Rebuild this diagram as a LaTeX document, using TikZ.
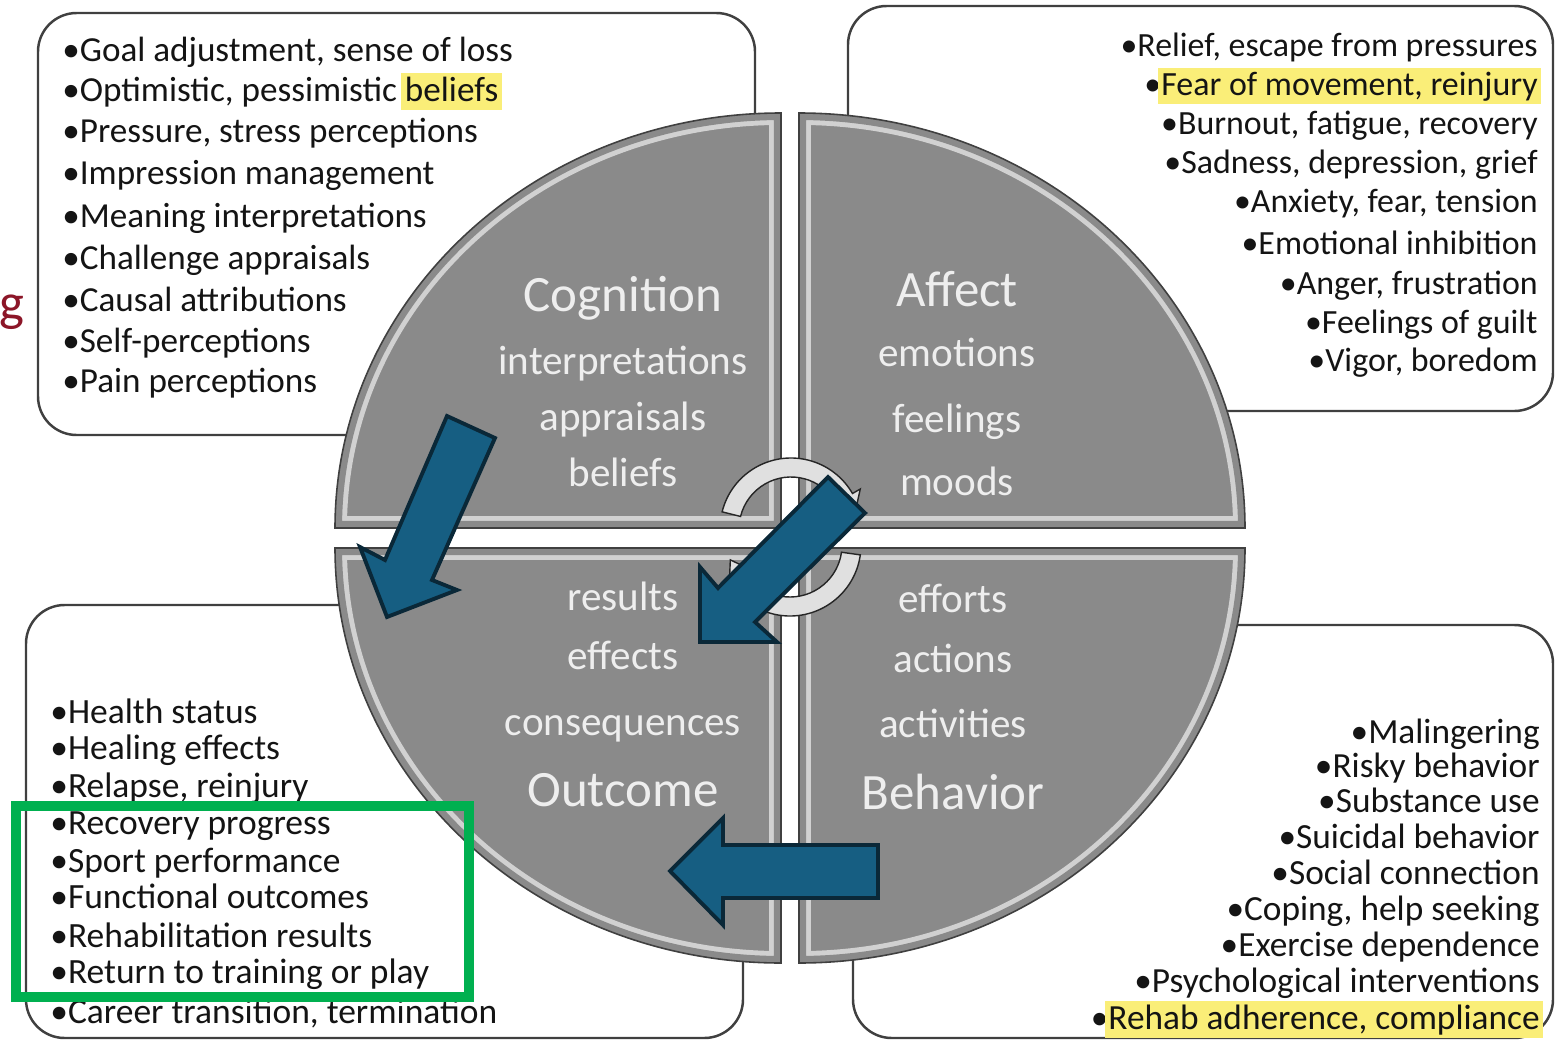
\documentclass[tikz,border=0pt]{standalone}
\usepackage{fontspec}
\setmainfont{Carlito}
\usetikzlibrary{positioning}
\definecolor{quadgray}{RGB}{138,138,138}
\definecolor{quadtext}{RGB}{238,238,238}
\definecolor{arrowblue}{RGB}{22,94,130}
\definecolor{arrowedge}{RGB}{10,40,56}
\definecolor{hlyellow}{RGB}{250,238,120}
\definecolor{framegreen}{RGB}{0,176,80}
\definecolor{slidered}{RGB}{140,22,40}
\newcommand\hlight[1]{\hspace*{-2pt}{\setlength{\fboxsep}{2pt}\colorbox{hlyellow}{\vphantom{Ay}#1}}\hspace*{-2pt}}
\newcommand\quadpath[4]{(#1,#2) -- ++(#3:446 and 415) arc[start angle=#3, end angle=#4, x radius=446, y radius=415] -- cycle}
\tikzset{
listbox/.style={
  draw=black!75,
  line width=1.4pt,
  fill=white,
  rounded corners=22pt
  },
listL/.style={
  anchor=base west,
  inner sep=0pt,
  text=black!92,
  font=\fontsize{20}{24}\selectfont
  },
listR/.style={listL, anchor=base east},
quadtxt/.style={
  anchor=base,
  inner sep=0pt,
  text=quadtext,
  font=\fontsize{23.4}{28}\selectfont
  },
quadhead/.style={quadtxt, font=\fontsize{29}{34}\selectfont},
quadedge/.style={draw=black!75, line width=0.9pt},
cyclearrow/.style={fill=black!12, draw=black!85, line width=0.8pt},
bluearrow/.style={fill=arrowblue, draw=arrowedge, line width=2.2pt, line join=miter},
greenframe/.style={draw=framegreen, line width=6.2pt}
}

\begin{document}
\begin{tikzpicture}[x=0.02cm, y=-0.02cm]
\useasboundingbox (0,0) rectangle (1555,1041);
\clip (0,0) rectangle (1555,1041);

\node[anchor=base east, inner sep=0pt, text=slidered, font=\fontsize{30}{36}\selectfont] (cut-g) at (25,320) {g};

\path[listbox] (38,13) rectangle (755,435);
\path[listbox] (848,6) rectangle (1553,411);
\path[listbox] (26,605) rectangle (743,1038);
\path[listbox] (853,625) rectangle (1553,1038);

\node[listL] (cog-1) at (62,61) {•Goal adjustment, sense of loss};
\node[listL] (cog-2) at (62,101) {•Optimistic, pessimistic \hlight{beliefs}};
\node[listL] (cog-3) at (62,142) {•Pressure, stress perceptions};
\node[listL] (cog-4) at (62,184) {•Impression management};
\node[listL] (cog-5) at (62,227) {•Meaning interpretations};
\node[listL] (cog-6) at (62,269) {•Challenge appraisals};
\node[listL] (cog-7) at (62,311) {•Causal attributions};
\node[listL] (cog-8) at (62,352) {•Self-perceptions};
\node[listL] (cog-9) at (62,392) {•Pain perceptions};

\node[listR, font=\fontsize{19.3}{23}\selectfont] (aff-1) at (1538,56) {•Relief, escape from pressures};
\node[listR, font=\fontsize{19.3}{23}\selectfont] (aff-2) at (1538,95) {•\hlight{Fear of movement, reinjury}};
\node[listR, font=\fontsize{19.3}{23}\selectfont] (aff-3) at (1538,134) {•Burnout, fatigue, recovery};
\node[listR, font=\fontsize{19.3}{23}\selectfont] (aff-4) at (1538,173) {•Sadness, depression, grief};
\node[listR, font=\fontsize{19.3}{23}\selectfont] (aff-5) at (1538,212) {•Anxiety, fear, tension};
\node[listR, font=\fontsize{19.3}{23}\selectfont] (aff-6) at (1538,254) {•Emotional inhibition};
\node[listR, font=\fontsize{19.3}{23}\selectfont] (aff-7) at (1538,294) {•Anger, frustration};
\node[listR, font=\fontsize{19.3}{23}\selectfont] (aff-8) at (1538,333) {•Feelings of guilt};
\node[listR, font=\fontsize{19.3}{23}\selectfont] (aff-9) at (1538,371) {•Vigor, boredom};

\node[listL, font=\fontsize{20.2}{24}\selectfont] (out-1) at (50,723) {•Health status};
\node[listL, font=\fontsize{20.2}{24}\selectfont] (out-2) at (50,759) {•Healing effects};
\node[listL, font=\fontsize{20.2}{24}\selectfont] (out-3) at (50,797) {•Relapse, reinjury};
\node[listL, font=\fontsize{20.2}{24}\selectfont] (out-4) at (50,834) {•Recovery progress};
\node[listL, font=\fontsize{20.2}{24}\selectfont] (out-5) at (50,872) {•Sport performance};
\node[listL, font=\fontsize{20.2}{24}\selectfont] (out-6) at (50,908) {•Functional outcomes};
\node[listL, font=\fontsize{20.2}{24}\selectfont] (out-7) at (50,947) {•Rehabilitation results};
\node[listL, font=\fontsize{20.2}{24}\selectfont] (out-8) at (50,983) {•Return to training or play};
\node[listL, font=\fontsize{20.2}{24}\selectfont] (out-9) at (50,1023) {•Career transition, termination};

\node[listR, font=\fontsize{20.1}{24}\selectfont] (beh-1) at (1540,743) {•Malingering};
\node[listR, font=\fontsize{20.1}{24}\selectfont] (beh-2) at (1540,777) {•Risky behavior};
\node[listR, font=\fontsize{20.1}{24}\selectfont] (beh-3) at (1540,812) {•Substance use};
\node[listR, font=\fontsize{20.1}{24}\selectfont] (beh-4) at (1540,848) {•Suicidal behavior};
\node[listR, font=\fontsize{20.1}{24}\selectfont] (beh-5) at (1540,884) {•Social connection};
\node[listR, font=\fontsize{20.1}{24}\selectfont] (beh-6) at (1540,920) {•Coping, help seeking};
\node[listR, font=\fontsize{20.1}{24}\selectfont] (beh-7) at (1540,956) {•Exercise dependence};
\node[listR, font=\fontsize{20.1}{24}\selectfont] (beh-8) at (1540,992) {•Psychological interventions};
\node[listR, font=\fontsize{20.1}{24}\selectfont] (beh-9) at (1540,1029) {•\hlight{Rehab adherence, compliance}};

% four quarters with a light bevel inside the rim
\foreach \cx/\cy/\sa/\ea in {781/528/180/270, 799/528/0/-90, 781/548/180/90, 799/548/0/90}{
  \begin{scope}
    \clip \quadpath{\cx}{\cy}{\sa}{\ea};
    \fill[quadgray] \quadpath{\cx}{\cy}{\sa}{\ea};
    \draw[black!18, line width=13.6pt] \quadpath{\cx}{\cy}{\sa}{\ea};
    \draw[quadgray, line width=8pt] \quadpath{\cx}{\cy}{\sa}{\ea};
  \end{scope}
  \draw[quadedge] \quadpath{\cx}{\cy}{\sa}{\ea};
}

\node[quadhead] (cog-head) at (623,311) {Cognition};
\node[quadtxt] (cog-a) at (623,374) {interpretations};
\node[quadtxt] (cog-b) at (623,430) {appraisals};
\node[quadtxt] (cog-c) at (623,486) {beliefs};

\node[quadhead] (aff-head) at (957,306) {Affect};
\node[quadtxt] (aff-a) at (957,366) {emotions};
\node[quadtxt] (aff-b) at (957,432) {feelings};
\node[quadtxt] (aff-c) at (957,495) {moods};

\node[quadtxt] (out-a) at (623,610) {results};
\node[quadtxt] (out-b) at (623,669) {effects};
\node[quadtxt] (out-c) at (623,735) {consequences};
\node[quadhead] (out-head) at (623,806) {Outcome};

\node[quadtxt] (beh-a) at (953,612) {efforts};
\node[quadtxt] (beh-b) at (953,672) {actions};
\node[quadtxt] (beh-c) at (953,737) {activities};
\node[quadhead] (beh-head) at (953,809) {Behavior};

\coordinate (cyc-top) at (791,529);
\coordinate (cyc-bot) at (790,545);
\path[cyclearrow] ([shift={(194:71)}]cyc-top) arc[start angle=194, end angle=330, radius=71]
  -- ([shift={(330:80)}]cyc-top) -- ([shift={(356:61.5)}]cyc-top) -- ([shift={(330:43)}]cyc-top)
  -- ([shift={(330:52)}]cyc-top) arc[start angle=330, end angle=194, radius=52] -- cycle;
\path[cyclearrow] ([shift={(8:71)}]cyc-bot) arc[start angle=8, end angle=140, radius=71]
  -- ([shift={(140:80)}]cyc-bot) -- ([shift={(166:61.5)}]cyc-bot) -- ([shift={(140:43)}]cyc-bot)
  -- ([shift={(140:52)}]cyc-bot) arc[start angle=140, end angle=8, radius=52] -- cycle;

\path[bluearrow] (447,416) -- (495,438) -- (432,580) -- (457,590) -- (387,617) -- (360,547) -- (385,560) -- cycle;
\path[bluearrow] (828,477) -- (865,513) -- (755,622) -- (777,642) -- (700,642) -- (700,567) -- (718,588) -- cycle;
\path[bluearrow] (878,845) -- (723,845) -- (723,818) -- (670,871) -- (723,925) -- (723,898) -- (878,898) -- cycle;

\draw[greenframe] (16,806) rectangle (469,997);

\end{tikzpicture}
\end{document}
